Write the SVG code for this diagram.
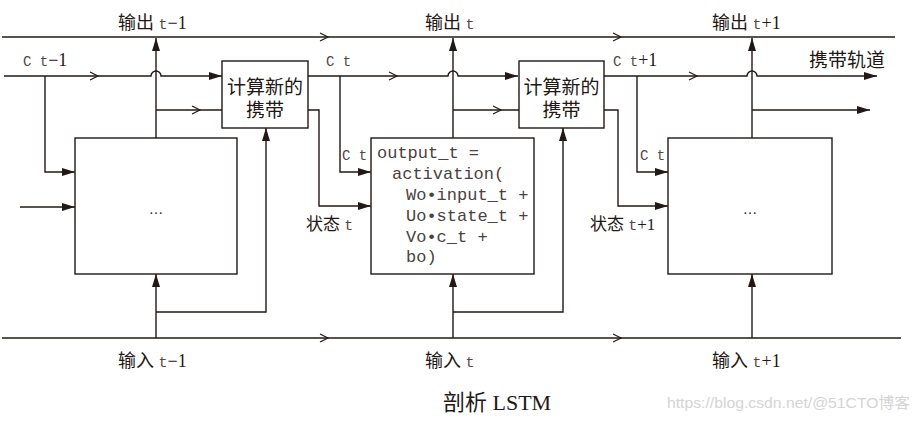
<svg xmlns="http://www.w3.org/2000/svg" width="920" height="422" viewBox="0 0 920 422">
<defs>
<marker id="arr" markerUnits="userSpaceOnUse" markerWidth="14" markerHeight="10" refX="13" refY="4" orient="auto">
<path d="M0,0 L13,4 L0,8 z" fill="#231815"/>
</marker>
</defs>
<style>
.ln{fill:none;stroke:#231815;stroke-width:1.4}
.ch{fill:none;stroke:#231815;stroke-width:1.2}
.box{fill:#fff;stroke:#231815;stroke-width:1.4}
.cjk{font-family:"Liberation Serif","Noto Sans CJK SC",serif;fill:#231815}
.mono{font-family:"Liberation Mono",monospace;fill:#514845}
.code{font-family:"Liberation Mono",monospace;font-size:17px;fill:#4a4240}
.dots{font-family:"Liberation Serif",serif;font-size:14px;fill:#231815}
</style>
<rect width="920" height="422" fill="#fff"/>
<g id="connectors">
<path class="ln" d="M2,37 H895"/>
<path class="ch" d="M320,33 L328,37 L320,41 M613,33 L621,37 L613,41"/>
<path class="ln" d="M4,76 H151 A5,5 0 0 1 161,76 H222" marker-end="url(#arr)"/>
<path class="ln" d="M308,76 H448 A5,5 0 0 1 458,76 H518" marker-end="url(#arr)"/>
<path class="ln" d="M604,76 H747 A5,5 0 0 1 757,76 H877" marker-end="url(#arr)"/>
<path class="ch" d="M90,72 L98,76 L90,80 M389,72 L397,76 L389,80 M689,72 L697,76 L689,80"/>
<path class="ln" d="M156,138 V38" marker-end="url(#arr)"/>
<path class="ln" d="M453,138 V38" marker-end="url(#arr)"/>
<path class="ln" d="M752,138 V38" marker-end="url(#arr)"/>
<path class="ln" d="M156,110 H222"/>
<path class="ln" d="M453,110 H519"/>
<path class="ln" d="M752,110 H870" marker-end="url(#arr)"/>
<path class="ch" d="M192,106 L200,110 L192,114 M493,106 L501,110 L493,114"/>
<path class="ln" d="M45,76 V172 H75" marker-end="url(#arr)"/>
<path class="ln" d="M340,76 V172 H371" marker-end="url(#arr)"/>
<path class="ln" d="M637,76 V172 H668" marker-end="url(#arr)"/>
<path class="ln" d="M20,207 H75" marker-end="url(#arr)"/>
<path class="ln" d="M308,110 H319 V206 H371" marker-end="url(#arr)"/>
<path class="ln" d="M604,110 H618 V206 H668" marker-end="url(#arr)"/>
<path class="ln" d="M2,338 H901"/>
<path class="ch" d="M320,334 L328,338 L320,342 M613,334 L621,338 L613,342"/>
<path class="ln" d="M156,338 V274" marker-end="url(#arr)"/>
<path class="ln" d="M156,312 H266 V128" marker-end="url(#arr)"/>
<path class="ln" d="M453,338 V274" marker-end="url(#arr)"/>
<path class="ln" d="M453,312 H563 V128" marker-end="url(#arr)"/>
<path class="ln" d="M752,338 V274" marker-end="url(#arr)"/>
</g>
<g id="block1">
<rect class="box" x="75" y="138" width="162" height="136"/>
<text class="dots" x="156" y="214" text-anchor="middle">…</text>
</g>
<g id="compute1">
<rect class="box" x="222" y="61" width="86" height="67"/>
<text class="cjk" x="265" y="94" font-size="19" text-anchor="middle">计算新的</text>
<text class="cjk" x="265" y="117" font-size="19" text-anchor="middle">携带</text>
</g>
<g id="block2">
<rect class="box" x="371" y="138" width="163" height="136"/>
<text class="code" x="377" y="158">output_t =</text>
<text class="code" x="392" y="179">activation(</text>
<text class="code" x="406" y="200">Wo•input_t +</text>
<text class="code" x="406" y="221">Uo•state_t +</text>
<text class="code" x="406" y="242">Vo•c_t +</text>
<text class="code" x="406" y="262">bo)</text>
</g>
<g id="compute2">
<rect class="box" x="519" y="61" width="85" height="67"/>
<text class="cjk" x="561.5" y="94" font-size="19" text-anchor="middle">计算新的</text>
<text class="cjk" x="561.5" y="117" font-size="19" text-anchor="middle">携带</text>
</g>
<g id="block3">
<rect class="box" x="668" y="138" width="164" height="136"/>
<text class="dots" x="750" y="214" text-anchor="middle">…</text>
</g>
<g id="labels">
<text class="cjk" x="118" y="29" font-size="18">输出 <tspan class="mono" font-size="15">t</tspan>−1</text>
<text class="cjk" x="425" y="29" font-size="18">输出 <tspan class="mono" font-size="15">t</tspan></text>
<text class="cjk" x="712" y="29" font-size="18">输出 <tspan class="mono" font-size="15">t</tspan>+1</text>
<text class="mono" x="23" y="66" font-size="14">C t<tspan class="cjk" font-size="18">−1</tspan></text>
<text class="mono" x="326" y="66" font-size="14">C t</text>
<text class="mono" x="613" y="66" font-size="14">C t<tspan class="cjk" font-size="18">+1</tspan></text>
<text class="cjk" x="809" y="67" font-size="19">携带轨道</text>
<text class="mono" x="342" y="160" font-size="14">C t</text>
<text class="mono" x="640" y="160" font-size="14">C t</text>
<text class="cjk" x="306" y="230" font-size="17">状态 <tspan class="mono" font-size="15">t</tspan></text>
<text class="cjk" x="590" y="230" font-size="17">状态 <tspan class="mono" font-size="15">t</tspan>+1</text>
<text class="cjk" x="118" y="367" font-size="18">输入 <tspan class="mono" font-size="15">t</tspan>−1</text>
<text class="cjk" x="425" y="367" font-size="18">输入 <tspan class="mono" font-size="15">t</tspan></text>
<text class="cjk" x="712" y="367" font-size="18">输入 <tspan class="mono" font-size="15">t</tspan>+1</text>
<text class="cjk" x="443" y="410" font-size="22">剖析 LSTM</text>
<text x="667" y="408" font-size="15" fill="#d4d4d4" font-family="Liberation Sans,Noto Sans CJK SC,sans-serif" textLength="243" lengthAdjust="spacingAndGlyphs">https://blog.csdn.net/@51CTO博客</text>
</g>
</svg>
